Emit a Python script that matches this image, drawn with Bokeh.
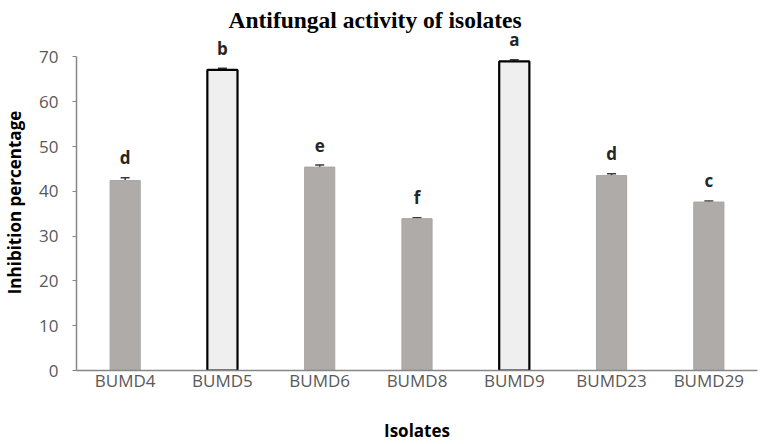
from bokeh.plotting import figure
from bokeh.models import ColumnDataSource, Range1d, FixedTicker, Whisker, TeeHead, Title
from bokeh.core.properties import value
from bokeh.embed import file_html
from bokeh.resources import INLINE

isolates = ["BUMD4", "BUMD5", "BUMD6", "BUMD8", "BUMD9", "BUMD23", "BUMD29"]
inhibition = [42.4, 67.1, 45.4, 33.9, 69.0, 43.5, 37.6]
errors = [0.6, 0.35, 0.45, 0.2, 0.35, 0.4, 0.25]
letters = ["d", "b", "e", "f", "a", "d", "c"]
highlight = [False, True, False, False, True, False, False]
y_ticks = [0, 10, 20, 30, 40, 50, 60, 70]

fills = ["#EFEFEF" if h else "#AEABA9" for h in highlight]
lines = ["#000000" if h else "#A8A5A3" for h in highlight]
lws = [2.2 if h else 1.0 for h in highlight]
upper = [v + e for v, e in zip(inhibition, errors)]
lower = [v - e for v, e in zip(inhibition, errors)]

src = ColumnDataSource(dict(x=isolates, top=inhibition, fill=fills, line=lines, lw=lws,
                            upper=upper, lower=lower, letter=letters))

p = figure(x_range=isolates, y_range=Range1d(0, 75), width=765, height=444,
           output_backend="svg", toolbar_location=None,
           min_border_left=75, min_border_right=8, min_border_top=34, min_border_bottom=74)
p.title = Title(text="Antifungal activity of isolates", align="left", offset=152,
                vertical_align="top",
                text_font="Liberation Serif", text_font_size="23.5px", text_font_style="bold",
                text_color="#000000", standoff=0)
p.x_range.range_padding = 0
p.outline_line_color = None
p.grid.visible = False
p.background_fill_color = "white"

p.vbar(x="x", top="top", width=0.31, bottom=0, source=src,
       fill_color="fill", line_color="line", line_width="lw")

w = Whisker(base="x", upper="upper", lower="lower", source=src,
            line_color="#3A3A3A", line_width=1.5,
            upper_head=TeeHead(size=9, line_color="#3A3A3A", line_width=1.5),
            lower_head=TeeHead(size=9, line_color="#3A3A3A", line_width=1.5))
p.add_layout(w)

p.text(x="x", y="upper", text="letter", source=src, text_align="center",
       text_baseline="alphabetic", y_offset=-20, text_font=value("Open Sans"),
       text_font_size="17px", text_font_style="bold", text_color="#262626")

p.yaxis.ticker = FixedTicker(ticks=y_ticks)
p.yaxis.bounds = (0, 70)
p.yaxis.minor_tick_line_color = None
p.yaxis.major_tick_line_color = "#868686"
p.yaxis.major_tick_out = 4
p.yaxis.major_tick_in = 0
p.yaxis.major_label_standoff = 14
p.yaxis.axis_label = "Inhibition percentage"
p.yaxis.axis_label_standoff = 10

p.xaxis.major_tick_line_color = None
p.xaxis.major_tick_out = 0
p.xaxis.major_tick_in = 0
p.xaxis.major_label_standoff = -2
p.xaxis.axis_label = "Isolates"
p.xaxis.axis_label_standoff = 24

for ax in (p.xaxis, p.yaxis):
    ax.axis_line_color = "#868686"
    ax.axis_line_width = 1.5
    ax.major_label_text_font = "Open Sans"
    ax.major_label_text_font_size = "17px"
    ax.major_label_text_color = "#595959"
    ax.axis_label_text_font = "Open Sans"
    ax.axis_label_text_font_size = "17px"
    ax.axis_label_text_font_style = "bold"
    ax.axis_label_text_color = "#000000"

open("out.html", "w").write(file_html(p, INLINE))
